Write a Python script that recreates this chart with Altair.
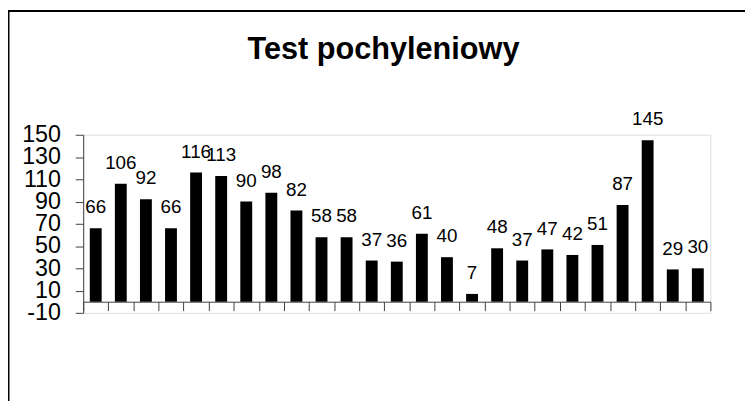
import altair as alt
import pandas as pd

# Data
categories = [str(i) for i in range(1, 26)]
values = [66, 106, 92, 66, 116, 113, 90, 98, 82, 58, 58, 37, 36, 61, 40, 7,
          48, 37, 47, 42, 51, 87, 145, 29, 30]
y_ticks = [-10, 10, 30, 50, 70, 90, 110, 130, 150]
title_text = "Test pochyleniowy"

df = pd.DataFrame({"cat": categories, "val": values})

FONT = "Liberation Sans"
AXIS_COLOR = "#404040"

x_enc = alt.X(
    "cat:N",
    sort=categories,
    scale=alt.Scale(paddingInner=0, paddingOuter=0),
    axis=alt.Axis(
        title=None,
        labels=False,
        tickBand="extent",
        ticks=True,
        tickSize=9,
        tickColor=AXIS_COLOR,
        domainColor=AXIS_COLOR,
        offset=-11.25,
        grid=False,
    ),
)
y_enc = alt.Y(
    "val:Q",
    scale=alt.Scale(domain=[-10, 150], nice=False, zero=False),
    axis=alt.Axis(
        title=None,
        values=y_ticks,
        grid=False,
        tickSize=8,
        tickColor=AXIS_COLOR,
        domainColor=AXIS_COLOR,
        labelFont=FONT,
        labelFontSize=23.5,
        labelColor="#000000",
        labelPadding=15,
        labelBaseline="middle",
        labelOverlap=False,
        labelSeparation=0,
        labelBound=False,
        labelFlush=False,
        labelExpr="datum.value",
    ),
)

base = alt.Chart(df)

bars = base.mark_bar(color="#000000", size=12).encode(x=x_enc, y=y_enc)

labels = base.mark_text(
    font=FONT, fontSize=19, color="#000000", baseline="alphabetic",
    align="center", dy=-15,
).encode(x=x_enc, y=y_enc, text="val:Q")

one = alt.Chart(pd.DataFrame({"a": [0]}))
frame_left = one.mark_rule(color="#000000", strokeWidth=2).encode(
    x=alt.value(-75.5), y=alt.value(-126), y2=alt.value(269)
)
frame_top = one.mark_rule(color="#000000", strokeWidth=2).encode(
    x=alt.value(-76.5), x2=alt.value(669), y=alt.value(-125)
)
title = one.mark_text(
    text=title_text, font=FONT, fontSize=31, fontWeight="bold",
    color="#000000", align="center", baseline="alphabetic",
).encode(x=alt.value(303.5), y=alt.value(-76.3))

chart = alt.layer(bars, labels, frame_left, frame_top, title).properties(
    width=634,
    height=180,
    autosize=alt.AutoSizeParams(type="none"),
    padding={"left": 76, "top": 126, "right": 35, "bottom": 89},
).configure_view(stroke=None).configure_axis(labelOverlap=False).configure(
    background="#ffffff"
)

chart.save("out.html", embed_options={"renderer": "svg", "actions": False})
